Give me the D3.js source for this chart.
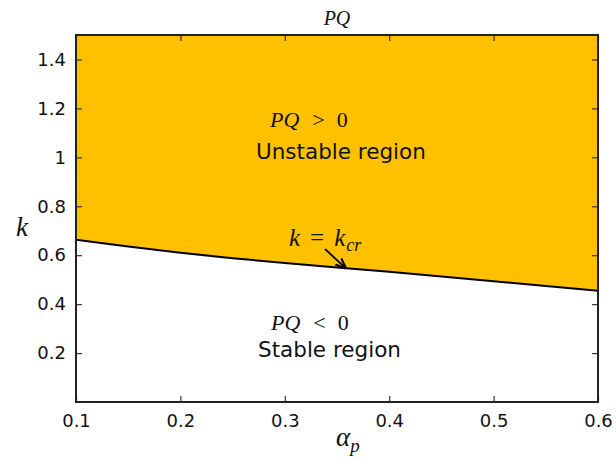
<!DOCTYPE html>
<html>
<head>
<meta charset="utf-8">
<script src="https://cdn.jsdelivr.net/npm/d3@7/dist/d3.min.js"></script>
<style>
  html, body { margin: 0; padding: 0; background: #fff; }
  svg { display: block; }
  .tick text { font-family: "DejaVu Sans", sans-serif; font-size: 18px; fill: #111; }
  .math { font-family: "Liberation Serif", "DejaVu Serif", serif; font-style: italic; fill: #111; }
  .up { font-style: normal; }
  .plain { font-family: "DejaVu Sans", sans-serif; fill: #111; }
</style>
</head>
<body>
<svg id="chart" width="616" height="461"></svg>
<script>
// Critical stiffness curve k_cr(alpha_p)
const alphaP = [0.1, 0.15, 0.2, 0.25, 0.3, 0.35, 0.4, 0.45, 0.5, 0.55, 0.6];
const kCr    = [0.663, 0.636, 0.610, 0.588, 0.568, 0.550, 0.532, 0.513, 0.494, 0.474, 0.455];

const xTicks = [0.1, 0.2, 0.3, 0.4, 0.5, 0.6];
const yTicks = [0.2, 0.4, 0.6, 0.8, 1.0, 1.2, 1.4];
const xDomain = [0.1, 0.6];
const yDomain = [0, 1.5];

const margin = { left: 76, right: 18, top: 35, bottom: 59 };
const W = 616, H = 461;
const svg = d3.select("#chart");

const x = d3.scaleLinear().domain(xDomain).range([margin.left, W - margin.right]);
const y = d3.scaleLinear().domain(yDomain).range([H - margin.bottom, margin.top]);

const pts = alphaP.map((a, i) => ({ a, k: kCr[i] }));

// unstable region: everything above the critical curve
const area = d3.area()
  .x(d => x(d.a))
  .y0(y(yDomain[1]))
  .y1(d => y(d.k));
svg.append("path").datum(pts)
  .attr("d", area)
  .attr("fill", "#FFC000");

// the critical curve itself
const line = d3.line().x(d => x(d.a)).y(d => y(d.k));
svg.append("path").datum(pts)
  .attr("d", line)
  .attr("fill", "none")
  .attr("stroke", "#000")
  .attr("stroke-width", 2);

// axes with inward ticks, mirrored on top and right
const tickLen = 6;
const gx = svg.append("g").attr("transform", `translate(0,${y(yDomain[0])})`)
  .call(d3.axisBottom(x).tickValues(xTicks).tickFormat(d3.format("")).tickSizeInner(-tickLen).tickSizeOuter(0).tickPadding(10));
const gxTop = svg.append("g").attr("transform", `translate(0,${y(yDomain[1])})`)
  .call(d3.axisTop(x).tickValues(xTicks).tickFormat("").tickSizeInner(-tickLen).tickSizeOuter(0));
const gy = svg.append("g").attr("transform", `translate(${x(xDomain[0])},0)`)
  .call(d3.axisLeft(y).tickValues(yTicks).tickFormat(d3.format("")).tickSizeInner(-tickLen).tickSizeOuter(0).tickPadding(10));
const gyR = svg.append("g").attr("transform", `translate(${x(xDomain[1])},0)`)
  .call(d3.axisRight(y).tickValues(yTicks).tickFormat("").tickSizeInner(-tickLen).tickSizeOuter(0));

[gx, gxTop, gy, gyR].forEach(g => {
  g.select(".domain").remove();
  g.selectAll(".tick line").attr("stroke", "#333").attr("stroke-width", 1.2);
});
gx.selectAll(".tick text").attr("dy", "0.85em");

// frame
svg.append("rect")
  .attr("x", x(xDomain[0])).attr("y", y(yDomain[1]))
  .attr("width", x(xDomain[1]) - x(xDomain[0]))
  .attr("height", y(yDomain[0]) - y(yDomain[1]))
  .attr("fill", "none").attr("stroke", "#222").attr("stroke-width", 2);

// titles
svg.append("text").attr("class", "math")
  .attr("x", (x(xDomain[0]) + x(xDomain[1])) / 2).attr("y", 25)
  .attr("text-anchor", "middle").attr("font-size", 20).text("PQ");

const xl = svg.append("text").attr("class", "math")
  .attr("x", 336).attr("y", 446).attr("font-size", 27);
xl.append("tspan").text("α");
xl.append("tspan").attr("font-size", 19).attr("dy", 6).text("p");

svg.append("text").attr("class", "math")
  .attr("x", 22).attr("y", 236).attr("text-anchor", "middle")
  .attr("font-size", 27).text("k");

// "PQ ≷ 0" style label: italic symbol, upright relation and number
function relLabel(xp, yp, rel) {
  const t = svg.append("text").attr("class", "math")
    .attr("x", xp).attr("y", yp).attr("font-size", 22);
  t.append("tspan").text("PQ");
  t.append("tspan").attr("class", "up").attr("dx", 13).text(rel);
  t.append("tspan").attr("class", "up").attr("dx", 12).text("0");
}

// region annotations
relLabel(270, 127, ">");
svg.append("text").attr("class", "plain")
  .attr("x", 256).attr("y", 159).attr("font-size", 21.5).text("Unstable region");

relLabel(271, 330, "<");
svg.append("text").attr("class", "plain")
  .attr("x", 258).attr("y", 357).attr("font-size", 21.5).text("Stable region");

// curve label with arrow
const kl = svg.append("text").attr("class", "math")
  .attr("x", 289).attr("y", 246).attr("font-size", 25);
kl.append("tspan").text("k");
kl.append("tspan").attr("class", "up").attr("dx", 10).text("=");
kl.append("tspan").attr("dx", 10).text("k");
kl.append("tspan").attr("font-size", 18).attr("dy", 5).attr("dx", 1).text("cr");

svg.append("defs").append("marker")
  .attr("id", "head").attr("viewBox", "0 0 10 10")
  .attr("refX", 9).attr("refY", 5)
  .attr("markerWidth", 6).attr("markerHeight", 6)
  .attr("orient", "auto")
  .append("path").attr("d", "M0,1 L10,5 L0,9").attr("fill", "none").attr("stroke", "#000").attr("stroke-width", 2);

const tipA = 0.358;
const tipK = 0.548;
svg.append("line")
  .attr("x1", 325).attr("y1", 249)
  .attr("x2", x(tipA)).attr("y2", y(tipK))
  .attr("stroke", "#000").attr("stroke-width", 1.8)
  .attr("marker-end", "url(#head)");
</script>
</body>
</html>
